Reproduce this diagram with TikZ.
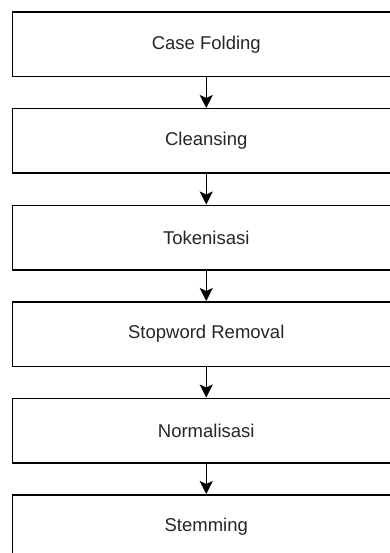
\documentclass[tikz,border=0pt]{standalone}
\usepackage{fontspec}
\setmainfont{Liberation Sans}
\usetikzlibrary{arrows.meta}
\begin{document}
\begin{tikzpicture}[x=1pt,y=-1pt,
  stepbox/.style={draw=black,line width=1.5pt,fill=white,rectangle,minimum width=388pt,minimum height=64.5pt,anchor=north west,inner sep=0pt,font=\fontsize{18.5}{22}\selectfont,text=black!85},
  flow/.style={line width=1.5pt,-{Stealth[length=13pt,width=13pt,inset=3pt]}}]
\useasboundingbox (0,0) rectangle (390,553);
\clip (0,0) rectangle (390,553);
\node[stepbox] (b1) at (11.5,11.5) {Case Folding};
\node[stepbox] (b2) at (11.5,108) {Cleansing};
\node[stepbox] (b3) at (11.5,204.5) {Tokenisasi};
\node[stepbox] (b4) at (11.5,301) {Stopword Removal};
\node[stepbox] (b5) at (11.5,397.5) {Normalisasi};
\node[stepbox] (b6) at (11.5,494) {Stemming};
\foreach \a/\b in {b1/b2,b2/b3,b3/b4,b4/b5,b5/b6}
  \draw[flow] (\a.south) -- (\b.north);
\end{tikzpicture}
\end{document}
